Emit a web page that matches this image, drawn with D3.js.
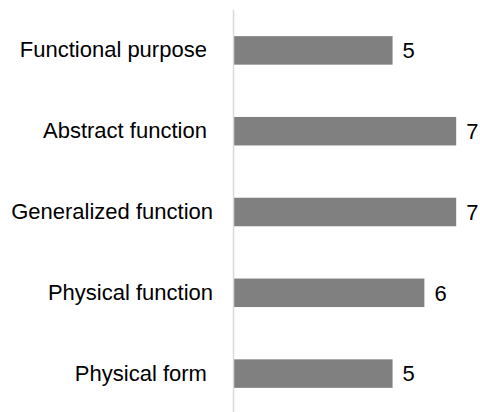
<!DOCTYPE html>
<html>
<head>
    <meta charset="utf-8">
    <title>Abstraction levels</title>
    <script src="https://d3js.org/d3.v7.min.js"></script>
    <style>
        body { margin: 0; background: #fff; }
        text { font-family: Arial, "Liberation Sans", sans-serif; fill: #000; }
    </style>
</head>
<body>
<script type="text/javascript">
    const w = 480;
    const h = 412;

    // categories (some carry a trailing space, as in the source)
    const levels = ['Functional purpose ', 'Abstract function ', 'Generalized function', 'Physical function', 'Physical form '];
    const counts = [5, 7, 7, 6, 5];

    const svg = d3.select('body').append('svg').attr('width', w).attr('height', h);

    const xScale = d3.scaleLinear()
        .domain([0, 8])
        .range([233.5, 488]);

    const yScale = d3.scaleBand()
        .domain(levels)
        .range([10, 414])
        .paddingInner(0.647)
        .paddingOuter(0.3235);

    // bars
    svg.selectAll('rect.bar')
        .data(levels)
        .enter()
        .append('rect')
        .attr('class', 'bar')
        .attr('x', xScale(0))
        .attr('y', d => yScale(d))
        .attr('width', (d, i) => xScale(counts[i]) - xScale(0))
        .attr('height', yScale.bandwidth())
        .attr('fill', '#808080');

    // value labels
    svg.selectAll('text.value')
        .data(levels)
        .enter()
        .append('text')
        .attr('class', 'value')
        .attr('x', (d, i) => xScale(counts[i]) + 10)
        .attr('y', d => yScale(d) + yScale.bandwidth() / 2)
        .attr('dy', '0.35em')
        .attr('font-size', '22px')
        .text((d, i) => counts[i]);

    // category axis: just the vertical line and labels
    const axis = d3.axisLeft(yScale).tickSize(0).tickPadding(20);
    const g = svg.append('g')
        .attr('transform', 'translate(233,0)')
        .call(axis);
    g.select('.domain').attr('d', 'M0.5,10V412').attr('stroke', '#d9d9d9').attr('stroke-width', 1.5);
    g.selectAll('text')
        .attr('font-size', '22px')
        .attr('font-family', 'Arial, "Liberation Sans", sans-serif')
        .style('white-space', 'pre');
</script>
</body>
</html>
